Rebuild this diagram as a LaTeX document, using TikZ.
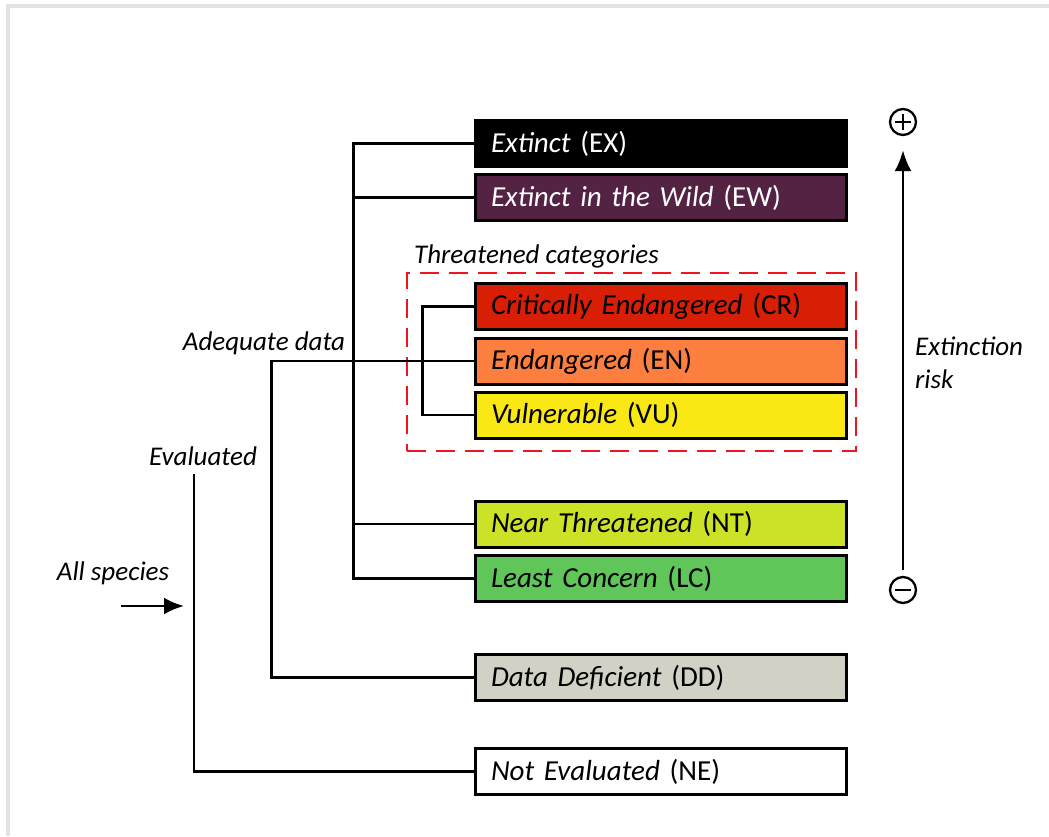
\documentclass[tikz,border=0pt]{standalone}
\usepackage{fontspec}
\setmainfont{Carlito}
\usetikzlibrary{arrows.meta}
\definecolor{cEX}{HTML}{000000}
\definecolor{cEW}{HTML}{542344}
\definecolor{cCR}{HTML}{D81E05}
\definecolor{cEN}{HTML}{FC7F3F}
\definecolor{cVU}{HTML}{F9E814}
\definecolor{cNT}{HTML}{CCE226}
\definecolor{cLC}{HTML}{60C659}
\definecolor{cDD}{HTML}{D1D1C6}
\definecolor{cNE}{HTML}{FFFFFF}
\definecolor{frameg}{HTML}{E2E2E2}
\definecolor{dashred}{HTML}{F0141E}
\tikzset{
  catbox/.style={draw=black, line width=3pt, minimum width=371pt, minimum height=46pt,
    inner sep=0pt, text width=339pt, align=left, font=\fontsize{29}{32}\selectfont},
  lbl/.style={font=\fontsize{27}{33}\selectfont\itshape, inner sep=0pt},
  conn/.style={line width=2.8pt, black},
}
\begin{document}
\begin{tikzpicture}[x=1pt, y=-1pt]
\useasboundingbox (0,0) rectangle (1049,836);
% frame
\draw[frameg, line width=4pt] (8,836) -- (8,6) -- (1049,6);
% boxes
\node[catbox, fill=cEX, text=white] (EX) at (660.5,143.5) {\textit{Extinct} (EX)};
\node[catbox, fill=cEW, text=white] (EW) at (660.5,197.5) {\textit{Extinct in the Wild} (EW)};
\node[catbox, fill=cCR] (CR) at (660.5,306.5) {\textit{Critically Endangered} (CR)};
\node[catbox, fill=cEN] (EN) at (660.5,361) {\textit{Endangered} (EN)};
\node[catbox, fill=cVU] (VU) at (660.5,415) {\textit{Vulnerable} (VU)};
\node[catbox, fill=cNT] (NT) at (660.5,524) {\textit{Near Threatened} (NT)};
\node[catbox, fill=cLC] (LC) at (660.5,578.5) {\textit{Least Concern} (LC)};
\node[catbox, fill=cDD] (DD) at (660.5,677.5) {\textit{Data Deficient} (DD)};
\node[catbox, fill=cNE] (NE) at (660.5,771.5) {\textit{Not Evaluated} (NE)};
% threatened frame
\node[draw=dashred, line width=2.8pt, dash pattern=on 19pt off 10pt, minimum width=449pt, minimum height=178pt, inner sep=0pt] (thr) at (631.5,362) {};
\node[lbl, anchor=base west] (thrl) at (414,263) {Threatened categories};
% connectors
\draw[conn] (EX.west) -- ++(-120,0) |- (LC.west);
\draw[conn] (EW.west) -- ++(-120,0);
\draw[conn] (NT.west) -- ++(-120,0);
\draw[conn] (CR.west) -- ++(-51,0) |- (VU.west);
\draw[conn] (EN.west) -- ++(-202,0) |- (DD.west);
\coordinate (evtop) at (194,474);
\draw[conn] (evtop) |- (NE.west);
% labels
\node[lbl] (adq) at (264,343) {Adequate data};
\node[lbl] (evl) at (203,456) {Evaluated};
\node[lbl] (alls) at (113,573) {All species};
\coordinate (as1) at (121,606);
\coordinate (as2) at (184,606);
\draw[conn, -{Latex[length=20pt,width=17pt]}] (as1) -- (as2);
% risk axis
\node[circle, draw, line width=2.3pt, minimum size=26pt, inner sep=0pt] (plus) at (903,122) {};
\node[circle, draw, line width=2.3pt, minimum size=26pt, inner sep=0pt] (minus) at (903,590) {};
\draw[line width=2.3pt] ([xshift=-8pt]plus.center) -- ([xshift=8pt]plus.center);
\draw[line width=2.3pt] ([yshift=-8pt]plus.center) -- ([yshift=8pt]plus.center);
\draw[line width=2.3pt] ([xshift=-8pt]minus.center) -- ([xshift=8pt]minus.center);
\draw[conn, -{Latex[length=21pt,width=17pt]}, shorten >=14pt, shorten <=6pt] (minus) -- (plus);
\node[lbl, anchor=west, align=left] (risk) at (915,363) {Extinction\\risk};
\end{tikzpicture}
\end{document}
